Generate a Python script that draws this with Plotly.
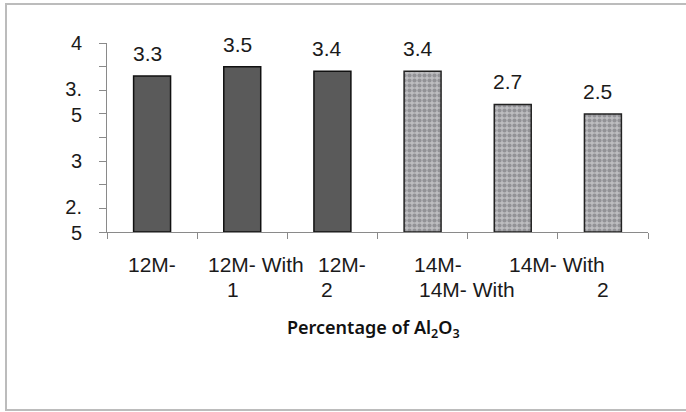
import plotly.graph_objects as go

# Sample groups and measured values
samples = ["12M-", "12M- With 1", "12M- 2", "14M-", "14M- With", "14M- With 2"]
values = [3.3, 3.5, 3.4, 3.4, 2.7, 2.5]

# Category label text, split into the two wrapped lines as printed
label_top = ["12M-", "12M- With", "12M-", "14M-", "14M- With", ""]
label_bottom = ["", "1", "2", "14M- With", "", "2"]

# Y axis labels (wrapped)
y_tickvals = [4, 2.75, 1.5, 0.25]
y_ticktext = ["4", "3.<br>5", "3", "2.<br>5"]
y_minor_ticks = [0, 0.5, 1, 1.5, 2, 2.5, 3, 3.5, 4]

W, H = 686, 412
L, R, T, B = 107, 38, 43, 180
pw, ph = W - L - R, H - T - B


def px_x(px):
    return (px - L) / pw


def px_y(py):
    return (H - B - py) / ph


FONT = "Liberation Sans, Arial, sans-serif"

fig = go.Figure()

plain_idx = [0, 1, 2]
tex_idx = [3, 4, 5]

fig.add_trace(go.Bar(
    x=[samples[i] for i in plain_idx],
    y=[values[i] for i in plain_idx],
    marker=dict(color="#5a5a5a", line=dict(color="#111111", width=1.5)),
    width=0.41, showlegend=False, hoverinfo="x+y",
))
fig.add_trace(go.Bar(
    x=[samples[i] for i in tex_idx],
    y=[values[i] for i in tex_idx],
    marker=dict(
        color="#b4b4b7",
        line=dict(color="#222222", width=1.5),
        pattern=dict(shape=".", fgcolor="#68686c", bgcolor="#bdbdc0",
                     size=5, solidity=0.55),
    ),
    width=0.41, showlegend=False, hoverinfo="x+y",
))

# value labels above bars
for s, v in zip(samples, values):
    fig.add_annotation(
        x=s, y=v, text=f"{v}", showarrow=False, yanchor="bottom",
        yshift=9, xshift=-5, font=dict(family=FONT, size=21, color="#1a1a1a"),
    )

# category labels
top_shift = [0, 14, 10, 15, 44, 0]
bot_shift = [0, -9, -5, 44, 0, 0]
for s, t1, t2, d1, d2 in zip(samples, label_top, label_bottom, top_shift, bot_shift):
    if t1:
        fig.add_annotation(x=s, xref="x", y=px_y(264), yref="paper", text=t1,
                           showarrow=False, xshift=d1, yanchor="middle",
                           font=dict(family=FONT, size=21, color="#1a1a1a"))
    if t2:
        fig.add_annotation(x=s, xref="x", y=px_y(289), yref="paper", text=t2,
                           showarrow=False, xshift=d2, yanchor="middle",
                           font=dict(family=FONT, size=21, color="#1a1a1a"))

# axis title
fig.add_annotation(x=0.5, xref="paper", xshift=-4, y=px_y(328), yref="paper",
                   text="Percentage of Al<sub>2</sub>O<sub>3</sub>",
                   showarrow=False, yanchor="middle",
                   font=dict(family="Noto Sans, sans-serif", size=18,
                             color="#111111", weight=600))

# outer chart frame
fig.add_shape(type="rect", xref="paper", yref="paper",
              x0=px_x(6), x1=px_x(700), y0=px_y(410), y1=px_y(4),
              line=dict(color="#bcbcbc", width=2), layer="below")

fig.update_layout(
    width=W, height=H,
    margin=dict(l=L, r=R, t=T, b=B),
    paper_bgcolor="white", plot_bgcolor="white",
    barmode="overlay",
    font=dict(family=FONT, color="#1a1a1a"),
    xaxis=dict(
        type="category", categoryorder="array", categoryarray=samples,
        showticklabels=False, showline=True, linecolor="#8a8a8a", linewidth=1,
        ticks="outside", tickson="boundaries", ticklen=6, tickcolor="#8a8a8a",
        showgrid=False, zeroline=False, range=[-0.5, 5.5],
    ),
    yaxis=dict(
        range=[0, 4], showline=True, linecolor="#8a8a8a", linewidth=1,
        tickmode="array", tickvals=y_tickvals, ticktext=y_ticktext,
        ticks="", ticklabelstandoff=20,
        tickfont=dict(family=FONT, size=20, color="#1a1a1a"),
        minor=dict(tickmode="array", tickvals=y_minor_ticks, ticks="outside",
                   ticklen=7, tickcolor="#8a8a8a", showgrid=False),
        showgrid=False, zeroline=False,
    ),
)

fig.write_html("out.html")
